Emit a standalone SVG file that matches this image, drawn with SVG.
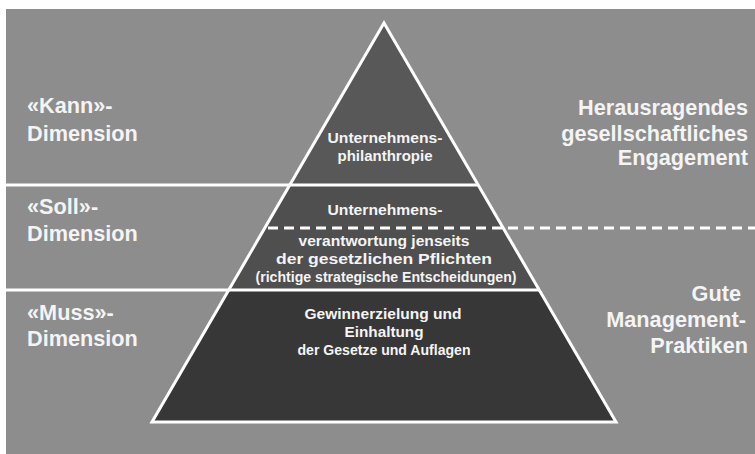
<svg xmlns="http://www.w3.org/2000/svg" width="755" height="454" viewBox="0 0 755 454">
<style>
.bg{fill:#8d8d8d}
.lbl{font-family:"Liberation Sans",Arial,sans-serif;font-weight:bold;font-size:21.7px;fill:#f4f4f4}
.in{font-family:"Liberation Sans",Arial,sans-serif;font-weight:bold;font-size:14px;fill:#f4f4f4;text-anchor:middle}
.sep{stroke:#ffffff;stroke-width:3;fill:none}
.dash{stroke:#ffffff;stroke-width:3;fill:none;stroke-dasharray:10 6}
</style>
<rect x="0" y="0" width="755" height="454" fill="#ffffff"/>
<rect class="bg" x="6" y="9" width="749" height="445"/>
<g id="level-kann">
<polygon points="384,23 478.2,185 289.8,185" fill="#585858"/>
<text class="in" x="385" y="143" textLength="115" lengthAdjust="spacingAndGlyphs">Unternehmens-</text>
<text class="in" x="385" y="161" textLength="95" lengthAdjust="spacingAndGlyphs">philanthropie</text>
</g>
<g id="level-soll">
<polygon points="289.8,185 478.2,185 539.3,290 228.7,290" fill="#4f4f4f"/>
<text class="in" x="385" y="215" textLength="115" lengthAdjust="spacingAndGlyphs">Unternehmens-</text>
<text class="in" x="384" y="246" textLength="171" lengthAdjust="spacingAndGlyphs">verantwortung jenseits</text>
<text class="in" x="384" y="264" textLength="216" lengthAdjust="spacingAndGlyphs">der gesetzlichen Pflichten</text>
<text class="in" x="386" y="282" textLength="261" lengthAdjust="spacingAndGlyphs">(richtige strategische Entscheidungen)</text>
</g>
<g id="level-muss">
<polygon points="228.7,290 539.3,290 616,422 152,422" fill="#373737"/>
<text class="in" x="383" y="319" textLength="157" lengthAdjust="spacingAndGlyphs">Gewinnerzielung und</text>
<text class="in" x="384" y="337" textLength="79" lengthAdjust="spacingAndGlyphs">Einhaltung</text>
<text class="in" x="384" y="355" textLength="173" lengthAdjust="spacingAndGlyphs">der Gesetze und Auflagen</text>
</g>
<g id="connectors">
<polygon points="384,23 616,422 152,422" class="sep" stroke-linejoin="miter"/>
<line class="sep" x1="6" y1="185" x2="478.2" y2="185"/>
<line class="sep" x1="6" y1="290" x2="539.3" y2="290"/>
<line class="dash" x1="268" y1="228" x2="755" y2="228"/>
</g>
<g id="label-kann">
<text class="lbl" x="27" y="113">«Kann»-</text>
<text class="lbl" x="27" y="141">Dimension</text>
</g>
<g id="label-soll">
<text class="lbl" x="27" y="214">«Soll»-</text>
<text class="lbl" x="27" y="241">Dimension</text>
</g>
<g id="label-muss">
<text class="lbl" x="27" y="320">«Muss»-</text>
<text class="lbl" x="27" y="346">Dimension</text>
</g>
<g id="label-engagement" text-anchor="end">
<text class="lbl" x="748" y="115">Herausragendes</text>
<text class="lbl" x="748" y="141">gesellschaftliches</text>
<text class="lbl" x="748" y="165">Engagement</text>
</g>
<g id="label-management" text-anchor="end">
<text class="lbl" x="741" y="301">Gute</text>
<text class="lbl" x="746" y="327">Management-</text>
<text class="lbl" x="748" y="353">Praktiken</text>
</g>
</svg>
